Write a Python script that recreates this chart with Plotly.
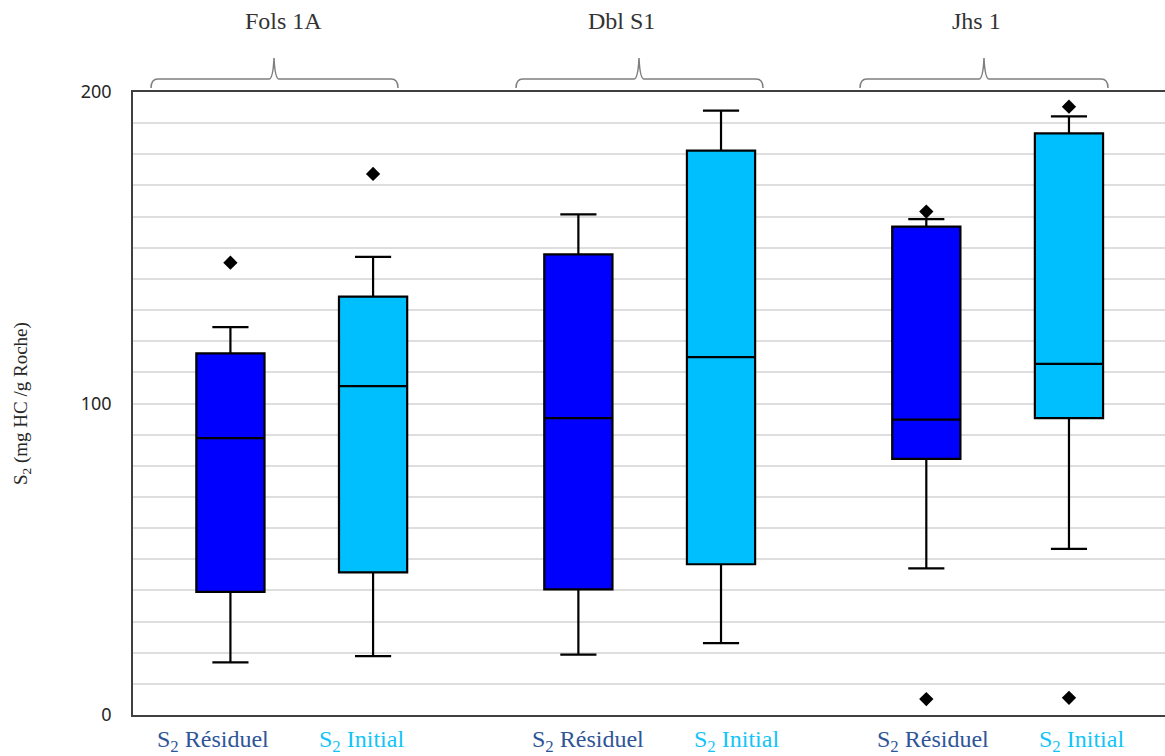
import plotly.graph_objects as go

# ---- data -------------------------------------------------------------
groups = ["Fols 1A", "Dbl S1", "Jhs 1"]
series_labels = ["S<sub>2</sub> Résiduel", "S<sub>2</sub> Initial"]

res_lower = [16.9, 19.4, 47.1]
res_q1 = [39.5, 40.3, 82.2]
res_median = [88.9, 95.3, 94.8]
res_q3 = [116.1, 147.9, 156.8]
res_upper = [124.5, 160.7, 159.2]
res_outliers = [[145.2], [], [161.6, 5.1]]

ini_lower = [18.9, 23.1, 53.3]
ini_q1 = [45.8, 48.4, 95.3]
ini_median = [105.6, 114.9, 112.7]
ini_q3 = [134.3, 181.2, 186.7]
ini_upper = [147.1, 194.0, 192.2]
ini_outliers = [[173.7], [], [195.3, 5.5]]

y_ticks = [0, 100, 200]

# ---- layout geometry --------------------------------------------------
W, H = 1165, 756
ML, MR, MT, MB = 133, 0, 92, 41
PW, PH = W - ML - MR, H - MT - MB
X_RANGE = [-0.485, 2.481]
OFFSET = 0.205
BOX_W = 0.196

RES_COLOR = "#0000FF"
INI_COLOR = "#00BFFF"
RES_TEXT = "#2F5597"
INI_TEXT = "#14C4F8"


def px_x(p):
    return (p - ML) / PW


def px_y(p):
    return (H - MB - p) / PH


fig = go.Figure()

series = [
    (series_labels[0], -OFFSET, RES_COLOR, res_lower, res_q1, res_median, res_q3, res_upper, res_outliers),
    (series_labels[1], OFFSET, INI_COLOR, ini_lower, ini_q1, ini_median, ini_q3, ini_upper, ini_outliers),
]

for name, off, color, lo, q1, med, q3, hi, outs in series:
    xs = [i + off for i in range(len(groups))]
    fig.add_trace(go.Box(
        x=xs, q1=q1, median=med, q3=q3, lowerfence=lo, upperfence=hi,
        width=BOX_W, whiskerwidth=0.53, boxpoints=False,
        fillcolor=color, line=dict(color="black", width=2.2),
        name=name, showlegend=False,
    ))
    ox, oy = [], []
    for x, vals in zip(xs, outs):
        for v in vals:
            ox.append(x)
            oy.append(v)
    fig.add_trace(go.Scatter(
        x=ox, y=oy, mode="markers",
        marker=dict(symbol="diamond", size=11, color="black"),
        showlegend=False, cliponaxis=False,
    ))

# ---- group brackets and labels ------------------------------------------
brackets = [(151, 274, 398), (516, 639, 763), (860, 984, 1108)]
title_centers = [283, 621, 976]
shapes = []
annotations = []
for (x0, xc, x1), tc, g in zip(brackets, title_centers, groups):
    pts = [
        f"M {px_x(x0)},{px_y(88)}",
        f"Q {px_x(x0)},{px_y(79)} {px_x(x0 + 7)},{px_y(79)}",
        f"L {px_x(xc - 5)},{px_y(79)}",
        f"Q {px_x(xc - 1)},{px_y(79)} {px_x(xc)},{px_y(58)}",
        f"Q {px_x(xc + 1)},{px_y(79)} {px_x(xc + 5)},{px_y(79)}",
        f"L {px_x(x1 - 7)},{px_y(79)}",
        f"Q {px_x(x1)},{px_y(79)} {px_x(x1)},{px_y(88)}",
    ]
    shapes.append(dict(type="path", xref="paper", yref="paper", path=" ".join(pts),
                       line=dict(color="#7F7F7F", width=1.5)))
    annotations.append(dict(text=g, xref="paper", yref="paper", x=px_x(tc), y=px_y(21),
                            showarrow=False, xanchor="center", yanchor="middle",
                            font=dict(family="Liberation Serif", size=24, color="#333333")))

label_centers = [(213, 361), (588, 736), (933, 1081)]
for rc, ic in label_centers:
    annotations.append(dict(text=series_labels[0], xref="paper", yref="paper", x=px_x(rc), y=px_y(741),
                            showarrow=False, xanchor="center", yanchor="middle",
                            font=dict(family="Liberation Serif", size=24, color=RES_TEXT)))
    annotations.append(dict(text=series_labels[1], xref="paper", yref="paper", x=px_x(ic), y=px_y(741),
                            showarrow=False, xanchor="center", yanchor="middle",
                            font=dict(family="Liberation Serif", size=24, color=INI_TEXT)))

annotations.append(dict(text="S<sub>2</sub> (mg HC /g Roche)", xref="paper", yref="paper",
                        x=px_x(22), y=px_y(404), textangle=-90, showarrow=False,
                        xanchor="center", yanchor="middle",
                        font=dict(family="Liberation Serif", size=19, color="#262626")))

fig.update_layout(
    width=W, height=H,
    margin=dict(l=ML, r=MR, t=MT, b=MB),
    paper_bgcolor="white", plot_bgcolor="white",
    boxmode="overlay",
    shapes=shapes, annotations=annotations,
    xaxis=dict(range=X_RANGE, showticklabels=False, showgrid=False, zeroline=False,
               showline=True, linecolor="#404040", linewidth=1.5, mirror=True, ticks=""),
    yaxis=dict(range=[0, 200], tickvals=y_ticks, ticks="", ticklabelstandoff=16,
               tickfont=dict(family="Noto Sans", size=18, color="#262626"),
               showgrid=True, gridcolor="#DEDEDE", gridwidth=2,
               minor=dict(dtick=10, showgrid=True, gridcolor="#DEDEDE", gridwidth=2),
               zeroline=False, showline=True, linecolor="#404040", linewidth=1.5),
)

fig.write_html("out.html")
